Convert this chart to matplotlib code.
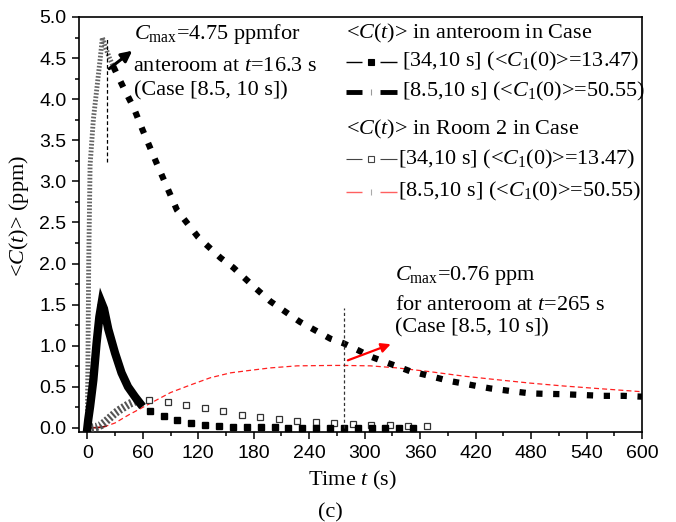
import matplotlib
matplotlib.use('Agg')
import matplotlib.pyplot as plt
from matplotlib.ticker import MultipleLocator

plt.rcParams['mathtext.fontset'] = 'custom'
plt.rcParams['mathtext.rm'] = 'Liberation Serif'
plt.rcParams['mathtext.it'] = 'Liberation Serif:italic'
plt.rcParams['mathtext.bf'] = 'Liberation Serif:bold'

# ---------------- data ----------------
# anteroom, case [34,10 s]: dense part (0-57 s) and sparse markers
ante34_dense_t = [0, 1, 3, 6.5, 10, 13, 15.5, 18, 22.7, 30, 37, 44, 51.5, 57]
ante34_dense_c = [0, 0.1, 0.26, 0.58, 1.03, 1.35, 1.52, 1.45, 1.2, 0.91, 0.67, 0.5, 0.38, 0.30]
ante34_t = [67.5, 82.5, 97.5, 112.5, 127.5, 142.5, 157.5, 172.5, 187.5, 202.5,
            217.5, 232.5, 247.5, 262.5, 277.5, 292.5, 307.5, 322.5, 337.5, 352.5]
ante34_c = [0.207, 0.142, 0.092, 0.060, 0.038, 0.025, 0.016, 0.011, 0.008, 0.006,
            0.004, 0.003, 0.002, 0.002, 0.001, 0.001, 0.001, 0.0, 0.0, 0.0]

# anteroom, case [8.5,10 s]
ante85_rise_t = [0, 0.8, 1.5, 3, 6.5, 10, 14, 16.3, 20, 24, 28]
ante85_rise_c = [0, 1.0, 2.0, 3.2, 3.75, 4.1, 4.5, 4.75, 4.62, 4.5, 4.4]
ante85_t = [28, 40, 50, 60, 75, 97, 120, 144, 158, 180, 198, 230, 263, 277, 292, 306,
            320, 335, 349, 364, 378, 392, 407, 421, 436, 450, 464, 479, 493, 515,
            536, 558, 580, 600]
ante85_c = [4.4, 4.12, 3.9, 3.62, 3.22, 2.65, 2.32, 2.07, 1.95, 1.72, 1.54, 1.29, 1.085,
            1.03, 0.95, 0.87, 0.81, 0.75, 0.69, 0.65, 0.61, 0.57, 0.54, 0.51, 0.48,
            0.46, 0.44, 0.42, 0.415, 0.41, 0.40, 0.39, 0.39, 0.38]

# Room 2, case [34,10 s]
room34_dense_t = [0, 5, 10, 15, 19, 22, 26, 30, 35, 40, 45, 50, 55, 58]
room34_dense_c = [0, 0.003, 0.012, 0.035, 0.07, 0.1, 0.14, 0.18, 0.22, 0.255, 0.29, 0.315, 0.335, 0.345]
room34_t = [67, 87, 107, 127, 147, 167, 187, 207, 227, 247, 267, 287, 307, 327, 347, 367]
room34_c = [0.342, 0.315, 0.275, 0.24, 0.2, 0.16, 0.133, 0.108, 0.087, 0.073,
            0.055, 0.045, 0.037, 0.03, 0.025, 0.018]

# Room 2, case [8.5,10 s]
room85_t = [0, 10, 15, 20, 30, 45, 60, 70, 80, 90, 111, 133, 155, 176, 198, 227, 265,
            277, 306, 335, 370, 407, 440, 479, 515, 551, 600]
room85_c = [0, 0.003, 0.008, 0.02, 0.06, 0.16, 0.25, 0.31, 0.37, 0.43, 0.52, 0.61, 0.67,
            0.70, 0.73, 0.755, 0.76, 0.76, 0.755, 0.73, 0.685, 0.63, 0.59, 0.545, 0.51,
            0.48, 0.44]

x_ticks = [0, 60, 120, 180, 240, 300, 360, 420, 480, 540, 600]
y_ticks = [0.0, 0.5, 1.0, 1.5, 2.0, 2.5, 3.0, 3.5, 4.0, 4.5, 5.0]

SERIF = 'Liberation Serif'
SANS = 'Liberation Sans'
FS = 16

fig = plt.figure(figsize=(6.76, 5.22), dpi=100)
ax = fig.add_axes([79/676, 1-432/522, (642-79)/676, (432-17)/522])

# Room 2 [8.5]
ax.plot(room85_t, room85_c, color='#ff2020', lw=0.9, linestyle=(0, (4, 2.5)), zorder=2)
ax.plot(room85_t[:4], room85_c[:4], color='#8b0000', lw=1.2, zorder=2)

# anteroom [34]
ax.plot(ante34_dense_t, ante34_dense_c, color='black', lw=6, solid_joinstyle='miter', zorder=4)
ax.plot(ante34_t, ante34_c, linestyle='none', marker='s', ms=4.2, color='black', zorder=4)

# Room 2 [34]
ax.plot(room34_dense_t, room34_dense_c, color='#555555', lw=6, linestyle=(0, (0.25, 0.25)), zorder=3)
ax.plot(room34_t, room34_c, linestyle='none', marker='s', ms=4.5, mfc='white',
        mec='#333333', mew=0.9, zorder=3)

# anteroom [8.5]
ax.plot(ante85_rise_t, ante85_rise_c, color='#666666', lw=3.5, linestyle=(0, (0.35, 0.35)), zorder=3)
ax.plot(ante85_t, ante85_c, color='black', lw=4.5, linestyle=(0, (1, 1.7)), zorder=3)

# annotations
ax.plot([21, 21], [3.23, 4.75], color='black', lw=0.9, linestyle=(0, (3, 2)), zorder=5)
ax.annotate('', xy=(51, 4.61), xytext=(21.3, 4.35),
            arrowprops=dict(arrowstyle='-|>', color='black', lw=2.2, mutation_scale=16), zorder=6)
ax.plot([278, 278], [0, 1.46], color='#333333', lw=0.9, linestyle=(0, (2.5, 2)), zorder=5)
ax.annotate('', xy=(331, 1.03), xytext=(279, 0.81),
            arrowprops=dict(arrowstyle='-|>', color='red', lw=1.6, mutation_scale=14), zorder=6)

ax.text(50.8, 4.73, r'$C_{\rm max}$=4.75 ppmfor', fontsize=FS, family=SERIF, va='baseline')
ax.text(49.5, 4.34, r'anteroom at $t$=16.3 s', fontsize=FS, family=SERIF, va='baseline')
ax.text(50.8, 4.05, r'(Case [8.5, 10 s])', fontsize=FS, family=SERIF, va='baseline')
ax.text(333, 1.80, r'$C_{\rm max}$=0.76 ppm', fontsize=FS, family=SERIF, va='baseline')
ax.text(333, 1.44, r'for anteroom at $t$=265 s', fontsize=FS, family=SERIF, va='baseline')
ax.text(333, 1.155, r'(Case [8.5, 10 s])', fontsize=FS, family=SERIF, va='baseline')

# legend (drawn manually, Origin style)
tr = ax.transAxes
def handle(y, color, lw, mk, ms, mfc, mec):
    ax.plot([0.474, 0.503], [y, y], transform=tr, color=color, lw=lw, solid_capstyle='butt')
    ax.plot([0.534, 0.564], [y, y], transform=tr, color=color, lw=lw, solid_capstyle='butt')
    ax.plot([0.519], [y], transform=tr, marker=mk, ms=ms, mfc=mfc, mec=mec, mew=0.8,
            linestyle='none')

ax.text(0.474, 0.961, r'<$C$($t$)> in anteroom in Case', transform=tr, fontsize=FS,
        family=SERIF, va='center')
handle(0.892, 'black', 1.0, 's', 4.0, 'black', 'black')
ax.text(0.573, 0.892, r'[34,10 s] (<$C_1$(0)>=13.47)', transform=tr, fontsize=FS,
        family=SERIF, va='center')
handle(0.820, 'black', 3.5, '|', 4, '#999999', '#999999')
ax.text(0.573, 0.820, r'[8.5,10 s] (<$C_1$(0)>=50.55)', transform=tr, fontsize=FS,
        family=SERIF, va='center')
ax.text(0.474, 0.728, r'<$C$($t$)> in Room 2 in Case', transform=tr, fontsize=FS,
        family=SERIF, va='center')
handle(0.657, '#444444', 0.8, 's', 4, 'white', '#444444')
ax.text(0.566, 0.657, r'[34,10 s] (<$C_1$(0)>=13.47)', transform=tr, fontsize=FS,
        family=SERIF, va='center')
handle(0.579, '#ff6060', 1.0, '|', 4, '#aaaaaa', '#aaaaaa')
ax.text(0.566, 0.579, r'[8.5,10 s] (<$C_1$(0)>=50.55)', transform=tr, fontsize=FS,
        family=SERIF, va='center')

# axes formatting
ax.set_xlim(-9, 600)
ax.set_ylim(-0.05, 5.0)
ax.set_xticks(x_ticks)
ax.set_xticklabels([str(v) for v in x_ticks])
ax.set_yticks(y_ticks)
ax.set_yticklabels(['%.1f' % v for v in y_ticks])
ax.xaxis.set_minor_locator(MultipleLocator(30))
ax.yaxis.set_minor_locator(MultipleLocator(0.25))
ax.tick_params(which='both', direction='out', top=False, right=False, width=1.1)
ax.tick_params(which='major', length=5, labelsize=14, pad=4)
ax.tick_params(which='minor', length=3)
for lab in ax.get_xticklabels() + ax.get_yticklabels():
    lab.set_family(SANS)
for s in ax.spines.values():
    s.set_linewidth(1.2)

ax.set_ylabel(r'<$C$($t$)> (ppm)', fontsize=FS, family=SERIF)
ax.yaxis.set_label_coords(-0.085, 0.52)
fig.text(352/676, 1-485/522, r'Time $t$ (s)', fontsize=FS, family=SERIF,
         ha='center', va='baseline')
fig.text(330/676, 1-517/522, '(c)', fontsize=FS, family=SERIF, ha='center', va='baseline')

fig.savefig('out.png', dpi=100)
